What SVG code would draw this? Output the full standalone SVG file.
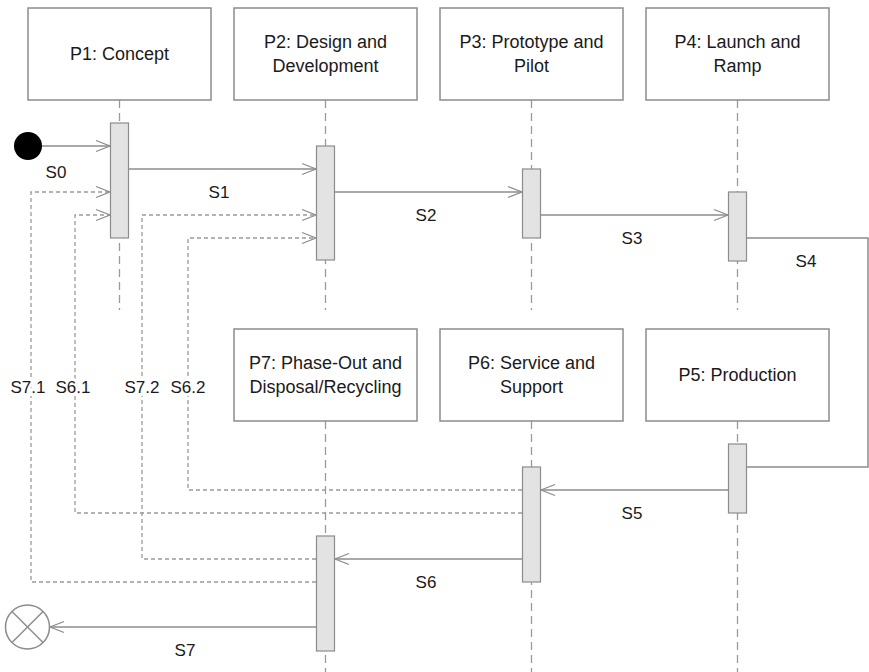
<svg xmlns="http://www.w3.org/2000/svg" width="869" height="672" viewBox="0 0 869 672">
<style>
.box{fill:#fff;stroke:#8c8c8c;stroke-width:1.5}
.bar{fill:#e3e3e3;stroke:#8c8c8c;stroke-width:1.2}
.life{stroke:#9a9a9a;stroke-width:1.3;stroke-dasharray:8,5;fill:none}
.msg{stroke:#8c8c8c;stroke-width:1.5;fill:none}
.ret{stroke:#9a9a9a;stroke-width:1.3;stroke-dasharray:4,3;fill:none}
text{font-family:"Liberation Sans",Arial,sans-serif;font-size:17px;fill:#1a1a1a;text-anchor:middle}
.name{font-size:18px}
.lbl{paint-order:stroke;stroke:#fff;stroke-width:6}
</style>
<defs>
<marker id="open" markerWidth="16" markerHeight="14" refX="15" refY="7" orient="auto" markerUnits="userSpaceOnUse">
<path d="M1,1.5 L15,7 L1,12.5" fill="none" stroke="#8c8c8c" stroke-width="1.3"/>
</marker>
</defs>
<rect width="869" height="672" fill="#fff"/>

<g id="lifelines">
<line class="life" x1="119.5" y1="100" x2="119.5" y2="310"/>
<line class="life" x1="325.5" y1="100" x2="325.5" y2="310"/>
<line class="life" x1="531.5" y1="100" x2="531.5" y2="310"/>
<line class="life" x1="737.5" y1="100" x2="737.5" y2="310"/>
<line class="life" x1="325.5" y1="421" x2="325.5" y2="672"/>
<line class="life" x1="531.5" y1="421" x2="531.5" y2="672"/>
<line class="life" x1="737.5" y1="421" x2="737.5" y2="672"/>
</g>

<g id="connectors">
<line class="msg" x1="42" y1="146" x2="110" y2="146" marker-end="url(#open)"/>
<line class="msg" x1="129" y1="169" x2="316" y2="169" marker-end="url(#open)"/>
<line class="msg" x1="335" y1="192" x2="522" y2="192" marker-end="url(#open)"/>
<line class="msg" x1="541" y1="215" x2="728" y2="215" marker-end="url(#open)"/>
<polyline class="msg" points="747,238 868,238 868,467 747,467"/>
<line class="msg" x1="728" y1="490" x2="541" y2="490" marker-end="url(#open)"/>
<line class="msg" x1="522" y1="559" x2="335" y2="559" marker-end="url(#open)"/>
<line class="msg" x1="316" y1="627" x2="50" y2="627" marker-end="url(#open)"/>
<polyline class="ret" points="316,582 31,582 31,192 110,192" marker-end="url(#open)"/>
<polyline class="ret" points="522,513 75,513 75,215 110,215" marker-end="url(#open)"/>
<polyline class="ret" points="316,559 142,559 142,215 316,215" marker-end="url(#open)"/>
<polyline class="ret" points="522,490 188,490 188,238 316,238" marker-end="url(#open)"/>
<text x="56" y="178">S0</text>
<text x="219" y="198">S1</text>
<text x="426" y="221">S2</text>
<text x="632" y="244">S3</text>
<text x="806" y="267">S4</text>
<text x="632" y="519">S5</text>
<text x="426" y="588">S6</text>
<text x="185" y="656">S7</text>
<text class="lbl" x="28" y="393">S7.1</text>
<text class="lbl" x="73" y="393">S6.1</text>
<text class="lbl" x="142" y="393">S7.2</text>
<text class="lbl" x="188" y="393">S6.2</text>
</g>

<g id="start">
<circle cx="28" cy="146" r="14" fill="#000"/>
</g>
<g id="end">
<circle cx="27.5" cy="627" r="22" fill="#fff" stroke="#8c8c8c" stroke-width="1.5"/>
<line x1="12" y1="611.5" x2="43" y2="642.5" stroke="#8c8c8c" stroke-width="1.5"/>
<line x1="43" y1="611.5" x2="12" y2="642.5" stroke="#8c8c8c" stroke-width="1.5"/>
</g>

<g id="P1">
<rect class="box" x="28" y="8" width="183" height="92"/>
<text class="name" x="119.5" y="60">P1: Concept</text>
<rect class="bar" x="110.5" y="123" width="18" height="115"/>
</g>
<g id="P2">
<rect class="box" x="234" y="8" width="183" height="92"/>
<text class="name" x="325.5" y="48">P2: Design and</text>
<text class="name" x="325.5" y="72">Development</text>
<rect class="bar" x="316.5" y="146" width="18" height="114"/>
</g>
<g id="P3">
<rect class="box" x="440" y="8" width="183" height="92"/>
<text class="name" x="531.5" y="48">P3: Prototype and</text>
<text class="name" x="531.5" y="72">Pilot</text>
<rect class="bar" x="522.5" y="169" width="18" height="69"/>
</g>
<g id="P4">
<rect class="box" x="646" y="8" width="183" height="92"/>
<text class="name" x="737.5" y="48">P4: Launch and</text>
<text class="name" x="737.5" y="72">Ramp</text>
<rect class="bar" x="728.5" y="192" width="18" height="69"/>
</g>
<g id="P5">
<rect class="box" x="646" y="329" width="183" height="92"/>
<text class="name" x="737.5" y="381">P5: Production</text>
<rect class="bar" x="728.5" y="444" width="18" height="69"/>
</g>
<g id="P6">
<rect class="box" x="440" y="329" width="183" height="92"/>
<text class="name" x="531.5" y="369">P6: Service and</text>
<text class="name" x="531.5" y="393">Support</text>
<rect class="bar" x="522.5" y="467" width="18" height="115"/>
</g>
<g id="P7">
<rect class="box" x="234" y="329" width="183" height="92"/>
<text class="name" x="325.5" y="369">P7: Phase-Out and</text>
<text class="name" x="325.5" y="393">Disposal/Recycling</text>
<rect class="bar" x="316.5" y="536" width="18" height="115"/>
</g>
</svg>
